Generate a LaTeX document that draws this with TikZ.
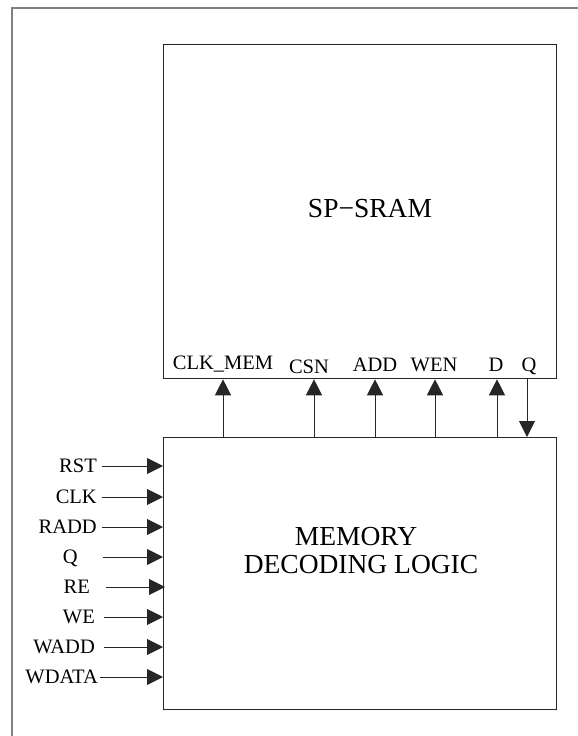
\documentclass[tikz,border=0pt]{standalone}
\usepackage{fontspec}
\setmainfont{Liberation Serif}
\usetikzlibrary{arrows.meta}
\begin{document}
\begin{tikzpicture}[x=1pt,y=-1pt,
  blk/.style={draw=black!85,line width=1.3pt,inner sep=0pt,anchor=north west},
  sig/.style={draw=black!85,line width=0.9pt,-{Triangle[length=16pt,width=16pt]}},
  lbl/.style={font=\fontsize{20.5}{22}\selectfont,inner sep=0pt,text height=13.5pt,text depth=0pt},
  big/.style={font=\fontsize{27.5}{29}\selectfont,inner sep=0pt}]
\useasboundingbox (0,0) rectangle (578,736);
\draw[black!50,line width=1.5pt] (12,736) -- (12,8) -- (578,8);

\node[blk,minimum width=393pt,minimum height=334pt] (sram) at (163,44) {};
\node[blk,minimum width=393pt,minimum height=272pt] (logic) at (163,437) {};

\node[big,anchor=base] (tsram) at (370,217) {SP−SRAM};
\node[big,anchor=base] (tmem) at (356,545) {MEMORY};
\node[big,anchor=base] (tdec) at (361,573) {DECODING LOGIC};

% pins on the SRAM
\node[lbl,anchor=base] (pclk) at (223,369) {CLK\_MEM};
\node[lbl,anchor=base] (pcsn) at (309,373) {CSN};
\node[lbl,anchor=base] (padd) at (375,371) {ADD};
\node[lbl,anchor=base] (pwen) at (434,371) {WEN};
\node[lbl,anchor=base] (pd) at (496,371) {D};
\node[lbl,anchor=base] (pq) at (529,371) {Q};

\coordinate (xclk) at (223,0);
\coordinate (xcsn) at (314,0);
\coordinate (xadd) at (375,0);
\coordinate (xwen) at (435,0);
\coordinate (xd) at (497,0);
\coordinate (xq) at (527,0);

\draw[sig] (xclk |- logic.north) -- (xclk |- sram.south);
\draw[sig] (xcsn |- logic.north) -- (xcsn |- sram.south);
\draw[sig] (xadd |- logic.north) -- (xadd |- sram.south);
\draw[sig] (xwen |- logic.north) -- (xwen |- sram.south);
\draw[sig] (xd |- logic.north) -- (xd |- sram.south);
\draw[sig] (xq |- sram.south) -- (xq |- logic.north);

% inputs of the logic
\node[lbl,anchor=east] (irst) at (97,466) {RST};
\node[lbl,anchor=east] (iclk) at (97,497) {CLK};
\node[lbl,anchor=east] (iradd) at (97,527) {RADD};
\node[lbl,anchor=east] (iq) at (78,557) {Q};
\node[lbl,anchor=east] (ire) at (90,587) {RE};
\node[lbl,anchor=east] (iwe) at (95,617) {WE};
\node[lbl,anchor=east] (iwadd) at (95,647) {WADD};
\node[lbl,anchor=east] (iwdata) at (98,677) {WDATA};

\draw[sig] ([xshift=5pt]irst.east) -- (irst -| logic.west);
\draw[sig] ([xshift=5pt]iclk.east) -- (iclk -| logic.west);
\draw[sig] ([xshift=5pt]iradd.east) -- (iradd -| logic.west);
\draw[sig] ([xshift=25pt]iq.east) -- (iq -| logic.west);
\draw[sig] ([xshift=16pt]ire.east) -- ([xshift=2pt]ire -| logic.west);
\draw[sig] ([xshift=9pt]iwe.east) -- (iwe -| logic.west);
\draw[sig] ([xshift=9pt]iwadd.east) -- (iwadd -| logic.west);
\draw[sig] ([xshift=2pt]iwdata.east) -- (iwdata -| logic.west);
\end{tikzpicture}
\end{document}
